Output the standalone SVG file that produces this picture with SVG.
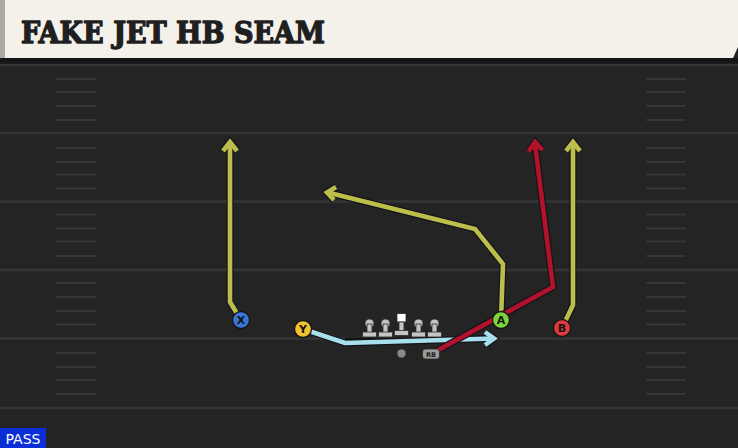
<svg xmlns="http://www.w3.org/2000/svg" width="738" height="448" viewBox="0 0 738 448">
<defs>
<style>
.yl{stroke:#363636;stroke-width:2.5}
.hs{stroke:#363636;stroke-width:2;stroke-linecap:round}
.out{fill:none;stroke:#14141a;stroke-width:7;stroke-linejoin:miter;stroke-linecap:butt}
.rt{fill:none;stroke-width:4.6;stroke-linejoin:miter;stroke-linecap:butt}
.olive{stroke:#bdbd4c}
.crim{stroke:#b2122c}
.sky{stroke:#a7e0ec}
.lbl{font-family:"DejaVu Sans","Liberation Sans",sans-serif;font-weight:bold;font-size:11px;fill:#141414;text-anchor:middle}
.lm{fill:#c4c4c4;stroke:#2a2a2a;stroke-width:0.8}
</style>
</defs>
<rect x="0" y="0" width="738" height="448" fill="#242424"/>
<rect x="0" y="58" width="738" height="7" fill="#161616"/>
<g id="field">
<line class="yl" x1="0" y1="65" x2="738" y2="65"/>
<line class="yl" x1="0" y1="133" x2="738" y2="133"/>
<line class="yl" x1="0" y1="201.5" x2="738" y2="201.5"/>
<line class="yl" x1="0" y1="270" x2="738" y2="270"/>
<line class="yl" x1="0" y1="338.5" x2="738" y2="338.5"/>
<line class="yl" x1="0" y1="408" x2="738" y2="408"/>
<g id="hashes-left">
<line class="hs" x1="57" y1="79" x2="95" y2="79"/><line class="hs" x1="57" y1="92" x2="95" y2="92"/><line class="hs" x1="57" y1="106" x2="95" y2="106"/><line class="hs" x1="57" y1="120" x2="95" y2="120"/>
<line class="hs" x1="57" y1="148" x2="95" y2="148"/><line class="hs" x1="57" y1="162" x2="95" y2="162"/><line class="hs" x1="57" y1="174.5" x2="95" y2="174.5"/><line class="hs" x1="57" y1="188.5" x2="95" y2="188.5"/>
<line class="hs" x1="57" y1="214.5" x2="95" y2="214.5"/><line class="hs" x1="57" y1="228.5" x2="95" y2="228.5"/><line class="hs" x1="57" y1="241.5" x2="95" y2="241.5"/><line class="hs" x1="57" y1="256" x2="95" y2="256"/>
<line class="hs" x1="57" y1="283" x2="95" y2="283"/><line class="hs" x1="57" y1="297" x2="95" y2="297"/><line class="hs" x1="57" y1="311" x2="95" y2="311"/><line class="hs" x1="57" y1="324.5" x2="95" y2="324.5"/>
<line class="hs" x1="57" y1="353" x2="95" y2="353"/><line class="hs" x1="57" y1="367" x2="95" y2="367"/><line class="hs" x1="57" y1="380" x2="95" y2="380"/><line class="hs" x1="57" y1="394" x2="95" y2="394"/>
</g>
<g id="hashes-right">
<line class="hs" x1="647" y1="79" x2="685" y2="79"/><line class="hs" x1="647" y1="92" x2="685" y2="92"/><line class="hs" x1="647" y1="106" x2="685" y2="106"/><line class="hs" x1="647" y1="120" x2="685" y2="120"/>
<line class="hs" x1="647" y1="148" x2="685" y2="148"/><line class="hs" x1="647" y1="162" x2="685" y2="162"/><line class="hs" x1="647" y1="174.5" x2="685" y2="174.5"/><line class="hs" x1="647" y1="188.5" x2="685" y2="188.5"/>
<line class="hs" x1="647" y1="214.5" x2="685" y2="214.5"/><line class="hs" x1="647" y1="228.5" x2="685" y2="228.5"/><line class="hs" x1="647" y1="241.5" x2="685" y2="241.5"/><line class="hs" x1="647" y1="256" x2="685" y2="256"/>
<line class="hs" x1="647" y1="283" x2="685" y2="283"/><line class="hs" x1="647" y1="297" x2="685" y2="297"/><line class="hs" x1="647" y1="311" x2="685" y2="311"/><line class="hs" x1="647" y1="324.5" x2="685" y2="324.5"/>
<line class="hs" x1="647" y1="353" x2="685" y2="353"/><line class="hs" x1="647" y1="367" x2="685" y2="367"/><line class="hs" x1="647" y1="380" x2="685" y2="380"/><line class="hs" x1="647" y1="394" x2="685" y2="394"/>
</g>
<line x1="345" y1="339" x2="458" y2="339" stroke="#121212" stroke-width="2.5"/>
</g>
<g id="header">
<polygon points="0,0 738,0 738,47 733,58 0,58" fill="#f4f1ea"/>
<rect x="0" y="0" width="5" height="58" fill="#a9a9a6"/>
<text x="21" y="43" font-family="'DejaVu Serif','Liberation Serif',serif" font-weight="900" font-size="29" fill="#1f1f1f" stroke="#1f1f1f" stroke-width="1.4" stroke-linejoin="round" textLength="304" lengthAdjust="spacingAndGlyphs">FAKE JET HB SEAM</text>
</g>
<g id="connectors">
<g id="route-x">
<polyline class="out" points="241,320 230,302 230,144"/>
<polyline class="out" points="223,151 230,142 237,151"/>
<polyline class="rt olive" points="241,320 230,302 230,144"/>
<polyline class="rt olive" points="223,151 230,142 237,151"/>
</g>
<g id="route-a">
<polyline class="out" points="501,320 503,264 475,229 330,193"/>
<polyline class="out" points="336,187 327,192.5 334,200"/>
<polyline class="rt olive" points="501,320 503,264 475,229 330,193"/>
<polyline class="rt olive" points="336,187 327,192.5 334,200"/>
</g>
<g id="route-b">
<polyline class="out" points="562,328 573,305 573,144"/>
<polyline class="out" points="566,151 573,142 580,151"/>
<polyline class="rt olive" points="562,328 573,305 573,144"/>
<polyline class="rt olive" points="566,151 573,142 580,151"/>
</g>
<g id="route-y">
<polyline class="out" points="303,329 345,343 493,338.5"/>
<polyline class="out" points="485,332 494,338.5 485,345"/>
<polyline class="rt sky" points="303,329 345,343 493,338.5"/>
<polyline class="rt sky" points="485,332 494,338.5 485,345"/>
</g>
<g id="route-rb">
<polyline class="out" points="431,354 553,287 535,144"/>
<polyline class="out" points="528.5,151.5 535,142 542.5,150"/>
<polyline class="rt crim" points="431,354 553,287 535,144"/>
<polyline class="rt crim" points="528.5,151.5 535,142 542.5,150"/>
</g>
</g>
<g id="line">
<g id="lt"><circle class="lm" cx="369.5" cy="323.5" r="4.5"/><rect class="lm" x="367" y="324" width="5" height="10"/><rect class="lm" x="362.5" y="332" width="14" height="5" rx="1"/></g>
<g id="lg"><circle class="lm" cx="385.5" cy="323.5" r="4.5"/><rect class="lm" x="383" y="324" width="5" height="10"/><rect class="lm" x="378.5" y="332" width="14" height="5" rx="1"/></g>
<g id="c"><rect x="397" y="313.5" width="9" height="8.5" fill="#ffffff" stroke="#2a2a2a" stroke-width="0.8"/><rect class="lm" x="399" y="322" width="5" height="10"/><rect class="lm" x="394.5" y="330.5" width="14" height="5" rx="1"/></g>
<g id="rg"><circle class="lm" cx="418.5" cy="323.5" r="4.5"/><rect class="lm" x="416" y="324" width="5" height="10"/><rect class="lm" x="411.5" y="332" width="14" height="5" rx="1"/></g>
<g id="rt"><circle class="lm" cx="434.5" cy="323.5" r="4.5"/><rect class="lm" x="432" y="324" width="5" height="10"/><rect class="lm" x="427.5" y="332" width="14" height="5" rx="1"/></g>
</g>
<g id="qb"><circle cx="401.5" cy="353.5" r="4.5" fill="#8a8a8a" stroke="#2a2a2a" stroke-width="0.8"/></g>
<g id="rb"><rect x="422.5" y="349" width="17" height="10" rx="3" fill="#9a9a9a" stroke="#2a2a2a" stroke-width="0.8"/><text x="431" y="357" font-family="'DejaVu Sans','Liberation Sans',sans-serif" font-weight="bold" font-size="6.5" fill="#1a1a1a" text-anchor="middle">RB</text></g>
<g id="player-x"><circle cx="241" cy="320" r="8.5" fill="#3b76d6" stroke="#15151a" stroke-width="1.3"/><text class="lbl" x="241" y="324">X</text></g>
<g id="player-y"><circle cx="303" cy="329" r="8.5" fill="#f2c12e" stroke="#15151a" stroke-width="1.3"/><text class="lbl" x="303" y="333">Y</text></g>
<g id="player-a"><circle cx="501" cy="320" r="8.5" fill="#7ed53a" stroke="#15151a" stroke-width="1.3"/><text class="lbl" x="501" y="324">A</text></g>
<g id="player-b"><circle cx="562" cy="328" r="8.5" fill="#e23a3e" stroke="#15151a" stroke-width="1.3"/><text class="lbl" x="562" y="332">B</text></g>
<g id="pass-tag"><rect x="0" y="428" width="46" height="20" fill="#0b2fd6"/><text x="23" y="444" font-family="'DejaVu Sans','Liberation Sans',sans-serif" font-size="14" fill="#ffffff" text-anchor="middle">PASS</text></g>
</svg>
